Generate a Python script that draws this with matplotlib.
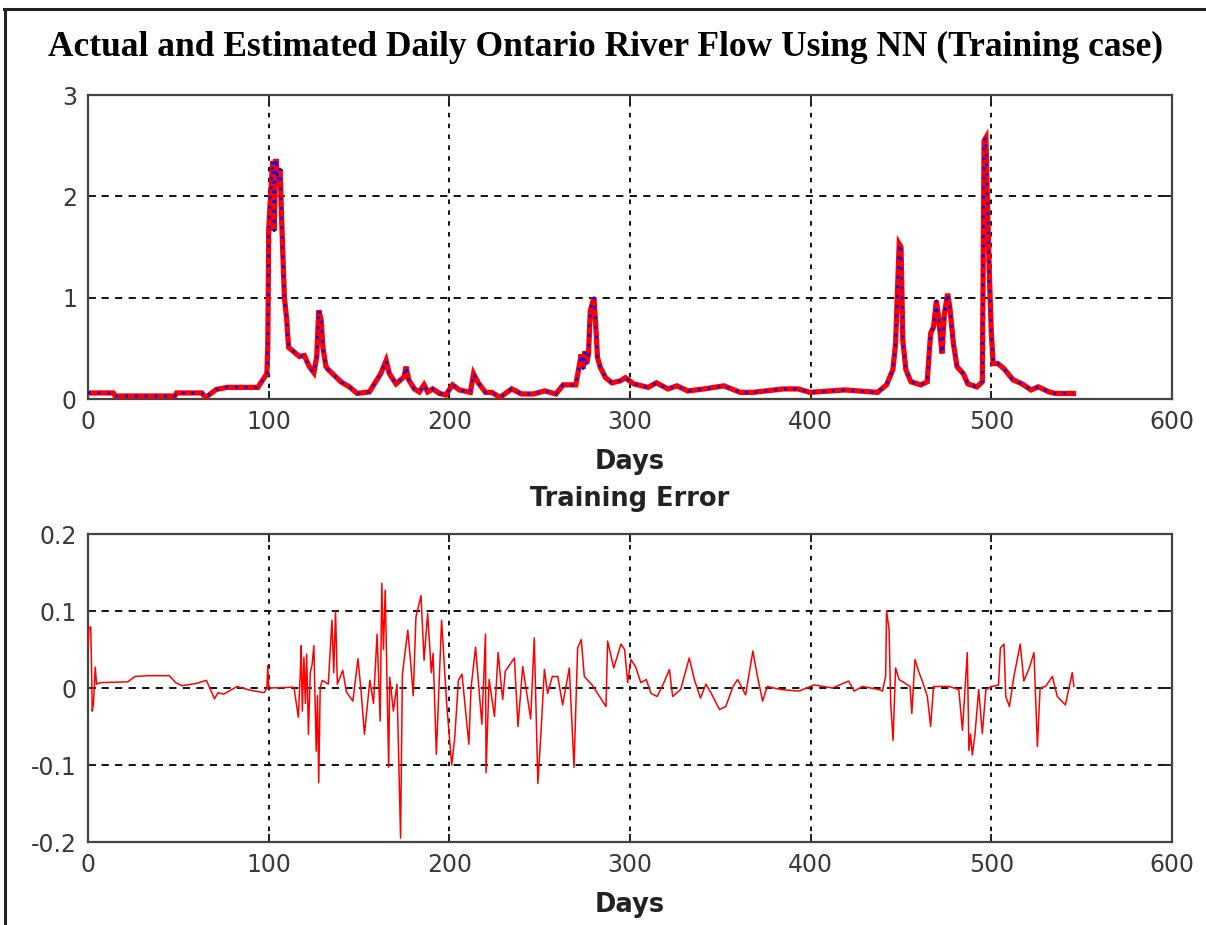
import numpy as np
import matplotlib
matplotlib.use("Agg")
import matplotlib.pyplot as plt
from matplotlib.lines import Line2D

# actual daily flow
flow_days = [0, 14, 15, 48, 49, 63, 65, 71, 77, 94, 96, 99, 99.5, 100, 100.7, 102.2, 103, 104, 105,
             106.3, 107.4, 108.7, 110, 111, 113, 117, 119.7, 122.5, 125, 126.6, 127.7, 129, 130, 131.7,
             133, 140, 144.6, 149, 155.7, 158.5, 162, 165, 166.8, 170.5, 175, 176, 177.5, 180.6, 183.4,
             186, 188, 190.8, 194.5, 198, 201.8, 205.5, 208, 211.6, 213.4, 216, 220, 223.5, 228, 234.5,
             240, 246.4, 252.8, 259, 263, 270, 273, 274, 275, 276, 277, 278, 280, 281, 282, 283.6, 286.5,
             290, 294.7, 297.4, 302, 310, 314.6, 321, 326, 332, 341, 352, 361, 368, 385, 393, 399.6,
             419, 437, 442, 445.5, 447, 449, 450, 451, 452.7, 455.5, 461, 464.5, 466.4, 468, 469.6, 471,
             472.7, 474, 475.8, 477, 479, 481, 484.5, 487, 492, 495, 496, 497, 498, 499, 500, 501,
             503.6, 507, 512, 517, 522, 526, 532, 535.5, 545.5]
flow = [0.06, 0.06, 0.03, 0.03, 0.06, 0.06, 0.015, 0.095, 0.115, 0.115, 0.17, 0.25, 0.52, 1.66, 1.9,
        2.35, 1.66, 2.37, 2.15, 2.27, 1.65, 1.0, 0.78, 0.51, 0.48, 0.42, 0.43, 0.32, 0.26, 0.42, 0.875,
        0.78, 0.51, 0.32, 0.29, 0.17, 0.12, 0.056, 0.07, 0.15, 0.25, 0.38, 0.25, 0.15, 0.22, 0.32, 0.19,
        0.1, 0.07, 0.14, 0.07, 0.1, 0.056, 0.04, 0.14, 0.09, 0.08, 0.066, 0.25, 0.16, 0.066, 0.066,
        0.016, 0.1, 0.05, 0.05, 0.08, 0.05, 0.14, 0.14, 0.44, 0.3, 0.47, 0.35, 0.44, 0.87, 1.0, 0.74,
        0.41, 0.31, 0.21, 0.16, 0.18, 0.21, 0.15, 0.115, 0.16, 0.1, 0.13, 0.08, 0.1, 0.13, 0.066, 0.066,
        0.1, 0.1, 0.066, 0.09, 0.066, 0.14, 0.29, 0.55, 1.53, 1.5, 0.58, 0.29, 0.17, 0.14, 0.17, 0.65,
        0.71, 0.97, 0.78, 0.45, 0.84, 1.04, 0.91, 0.55, 0.32, 0.25, 0.15, 0.12, 0.17, 2.55, 2.58, 1.83,
        1.17, 0.65, 0.35, 0.35, 0.3, 0.19, 0.15, 0.09, 0.12, 0.07, 0.055, 0.055]

# NN estimate: visually the same curve as the actual flow
est_days = list(flow_days)
est_flow = list(flow)

# training error
err_days = [0, 0.5, 1.5, 2, 2.3, 3, 4, 4.7, 7, 22, 26, 33, 45, 48.5, 52, 60, 65.5, 70, 72, 75, 82.5, 90,
            97.5, 99, 99.5, 100, 114, 116.4, 117.5, 118, 118.6, 119.5, 120.3, 121, 122, 123, 124, 125,
            126.3, 127, 127.7, 128.5, 129.6, 133, 135,
            136, 137, 138, 141, 143, 146.6, 149.4, 151, 153, 156, 158, 160, 161.7, 162.6, 163.5, 164.5,
            166.4, 167, 169, 171, 173, 174, 177, 178.7, 180, 181.5, 184.3, 186, 188, 190, 191, 192.8,
            195.7, 198.5, 201.3, 203, 205, 207, 210.8, 212, 214.5, 218, 220, 220.3, 222, 225, 227,
            229.5, 231, 236, 238, 240.6, 245, 247, 249, 250.7, 252.6, 254.4, 257, 260, 262.7, 266.4,
            269, 271, 273, 274.7, 279, 286.7, 287.6, 291, 295, 297, 298.7, 300.5, 303, 306, 309, 311.6,
            315, 318, 321.8, 323.6, 328, 332.8, 335.6, 339, 342, 345, 349.5, 353, 357, 359.6, 364, 368,
            370.7, 373.4, 376, 383.6, 393.5, 402, 412, 421, 424, 428.6, 437.8, 439.7, 441.5, 442, 443.4,
            444.3, 445.6, 447, 449, 455, 456, 457.7, 460, 461.8, 464.6, 466.4, 468, 476.6, 482, 484,
            486.7, 487.6, 488.5, 489.5, 491, 493, 495, 497, 500.5, 504, 505, 507, 508, 510, 512.5, 516,
            518, 521, 523.6, 525.5, 527, 530, 533.8, 536.5, 541, 543, 544.8, 545.7]
err = [0.05, 0.079, 0.079, 0.02, -0.03, -0.02, 0.027, 0.005, 0.007, 0.008, 0.015, 0.016, 0.016, 0.007,
       0.003, 0.006, 0.01, -0.014, -0.006, -0.008, 0.002, -0.003, -0.006, 0.0, 0.029, 0.0, 0.001, -0.038,
       0.02, 0.055, -0.03, 0.04, -0.02, 0.044, -0.06, 0.02, 0.03, 0.055, -0.082, -0.01, -0.123, 0.0,
       0.01, 0.005, 0.088, 0.02, 0.1, 0.005, 0.023,
       -0.005, -0.017, 0.038, 0.0, -0.06, 0.01, -0.02, 0.07, -0.043, 0.136, 0.05, 0.127, -0.103, 0.014,
       -0.03, 0.005, -0.195, 0.018, 0.075, 0.03, -0.01, 0.092, 0.12, 0.036, 0.097, 0.02, 0.045, -0.086,
       0.088, -0.02, -0.1, -0.064, 0.01, 0.018, -0.073, 0.0, 0.053, -0.047, 0.07, -0.11, 0.011, -0.037,
       0.046, -0.015, 0.022, 0.039, -0.05, 0.028, -0.04, 0.065, -0.124, -0.059, 0.024, -0.007, 0.015,
       0.015, -0.022, 0.026, -0.103, 0.052, 0.063, 0.015, 0.004, -0.024, 0.061, 0.026, 0.057, 0.05, 0.007,
       0.037, 0.028, 0.007, 0.011, -0.007, -0.011, 0.003, 0.024, -0.011, -0.002, 0.039, 0.011, -0.013,
       0.005, -0.007, -0.028, -0.024, 0.002, 0.011, -0.009, 0.048, 0.013, -0.017, 0.002, -0.002, -0.004,
       0.004, 0.0, 0.009, -0.004, 0.002, -0.002, -0.004, 0.015, 0.1, 0.076, -0.02, -0.068, 0.026, 0.011,
       0.002, -0.033, 0.037, 0.02, 0.009, -0.011, -0.05, 0.002, 0.002, -0.002, -0.055, 0.046, -0.081,
       -0.06, -0.087, -0.059, -0.002, -0.059, -0.002, 0.002, 0.004, 0.052, 0.057, -0.011, -0.024, 0.015,
       0.057, 0.009, 0.026, 0.046, -0.076, 0.0, 0.002, 0.015, -0.011, -0.022, 0.0, 0.02, 0.002]

x_ticks = [0, 100, 200, 300, 400, 500, 600]
flow_ticks = [0, 1, 2, 3]
err_ticks = [-0.2, -0.1, 0, 0.1, 0.2]
err_labels = ["-0.2", "-0.1", "0", "0.1", "0.2"]

tick_color = "#3a3a3a"
plt.rcParams["font.family"] = ["DejaVu Sans"]

fig = plt.figure(figsize=(12.06, 9.25), dpi=100)

# thin page border (top and left)
fig.add_artist(Line2D([0.003, 1.0], [0.99, 0.99], color="#222222", lw=2.2))
fig.add_artist(Line2D([0.004, 0.004], [0.0, 0.99], color="#222222", lw=2.2))

fig.text(0.502, 0.949, "Actual and Estimated Daily Ontario River Flow Using NN (Training case)",
         ha="center", va="center", family="Liberation Serif", weight="bold", fontsize=25.5)


def style_axes(ax):
    for s in ax.spines.values():
        s.set_color("#444444")
        s.set_linewidth(1.6)
    ax.tick_params(direction="in", length=6, width=1.4, color="#222222",
                   labelsize=17, labelcolor=tick_color, top=True, right=True, pad=8)
    ax.set_xlim(0, 600)
    ax.set_xticks(x_ticks)
    for t in ax.get_yticks():
        ax.axhline(t, color="black", lw=1.3, ls=(0, (4, 3.5)), zorder=1)
    for t in x_ticks[1:-1]:
        ax.axvline(t, color="black", lw=1.3, ls=(0, (2.5, 3.5)), zorder=1)
    ax.set_xlabel("Days", fontsize=18.5, weight="bold", color="#222222", labelpad=11)


ax1 = fig.add_axes([0.073, 0.5686, 0.8988, 0.3286])
ax1.set_ylim(0, 3)
ax1.set_yticks(flow_ticks)
style_axes(ax1)
ax1.plot(flow_days, flow, color="red", lw=3.8, solid_joinstyle="miter", zorder=3)
ax1.plot(est_days, est_flow, color="blue", lw=2.0, ls=(0, (1, 2.5)), zorder=4)

ax2 = fig.add_axes([0.073, 0.0897, 0.8988, 0.333])
ax2.set_ylim(-0.2, 0.2)
ax2.set_yticks(err_ticks)
ax2.set_yticklabels(err_labels)
style_axes(ax2)
ax2.plot(err_days, err, color="red", lw=1.1, zorder=3)
ax2.set_title("Training Error", fontsize=18.5, weight="bold", color="#222222", pad=20)

plt.savefig("out.png", dpi=100)
